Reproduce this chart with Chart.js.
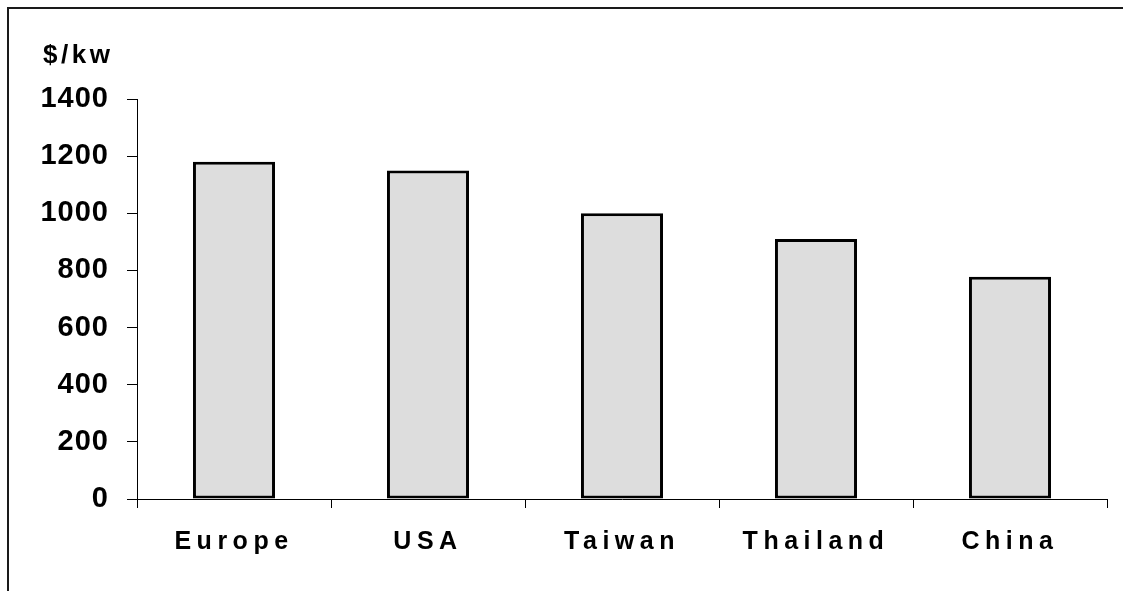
<!DOCTYPE html>
<html>
<head>
<meta charset="utf-8">
<title>$/kw</title>
<script src="https://cdn.jsdelivr.net/npm/chart.js@4.4.1/dist/chart.umd.min.js"></script>
<style>
    html, body { margin: 0; padding: 0; background: #fff; }
    #contenitore { width: 1123px; height: 591px; position: relative; }
</style>
</head>
<body>
<div id="contenitore">
    <canvas id="grafico"></canvas>
</div>
<script>
var paesi = ["Europe", "USA", "Taiwan", "Thailand", "China"];
var costi = [1180, 1150, 1000, 910, 778];
var unita = "$/kw";
var massimo = 1400;
var passo = 200;

var font = "'Liberation Sans', Arial, sans-serif";
// spaziatura lettere per ogni asse (il titolo usa quella globale)
var spaziatura = { x: "5.5px", y: "1px" };
var spaziaturaTitolo = "3.5px";
var xTitolo = 43;

// cornice in alto e a sinistra + spaziatura delle etichette
var cornice = {
    id: "cornice",
    beforeDraw: function (chart) {
        var ctx = chart.ctx;
        ctx.save();
        ctx.strokeStyle = "#1a1a1a";
        ctx.lineWidth = 2;
        ctx.beginPath();
        ctx.moveTo(8, 600);
        ctx.lineTo(8, 8);
        ctx.lineTo(1130, 8);
        ctx.stroke();
        ctx.restore();
        ctx.letterSpacing = spaziaturaTitolo;
    },
    afterLayout: function (chart) {
        if (chart.titleBlock) chart.titleBlock.left = xTitolo;
        ["x", "y"].forEach(function (id) {
            var s = chart.scales[id];
            if (!s || s._spaziato) return;
            var etichette = s.drawLabels;
            s.drawLabels = function (area) {
                var prima = chart.ctx.letterSpacing;
                chart.ctx.letterSpacing = spaziatura[id];
                etichette.call(this, area);
                chart.ctx.letterSpacing = prima;
            };
            s._spaziato = true;
        });
    }
};

var ctx = document.getElementById("grafico");
var grafico = new Chart(ctx, {
    type: "bar",
    data: {
        labels: paesi,
        datasets: [{
            data: costi,
            backgroundColor: "#dddddd",
            borderColor: "#000000",
            borderWidth: 3,
            borderSkipped: false,
            categoryPercentage: 1,
            barPercentage: 0.423
        }]
    },
    options: {
        responsive: true,
        maintainAspectRatio: false,
        animation: false,
        layout: {
            padding: { top: 0, left: 20, right: 16, bottom: 32 }
        },
        plugins: {
            legend: { display: false },
            tooltip: { enabled: false },
            title: {
                display: true,
                text: unita,
                align: "start",
                color: "#000",
                font: { family: font, size: 26, weight: "bold", lineHeight: 1.2 },
                padding: { top: 40, bottom: 27.8 }
            }
        },
        scales: {
            x: {
                grid: {
                    offset: true,
                    drawOnChartArea: false,
                    drawTicks: true,
                    tickLength: 9,
                    color: "#000",
                    lineWidth: 1
                },
                border: { display: true, color: "#000", width: 1 },
                ticks: {
                    color: "#000",
                    padding: 19,
                    maxRotation: 0,
                    font: { family: font, size: 25, weight: "bold" }
                },
                afterFit: function (scale) { scale.height = 60; }
            },
            y: {
                min: 0,
                max: massimo,
                grid: {
                    drawOnChartArea: false,
                    drawTicks: true,
                    tickLength: 10,
                    color: "#000",
                    lineWidth: 1
                },
                border: { display: true, color: "#000", width: 1 },
                ticks: {
                    stepSize: passo,
                    color: "#000",
                    padding: 18,
                    font: { family: font, size: 29, weight: "bold" },
                    callback: function (valore) { return String(valore); }
                },
                afterFit: function (scale) { scale.width = 117; }
            }
        }
    },
    plugins: [cornice]
});
</script>
</body>
</html>
